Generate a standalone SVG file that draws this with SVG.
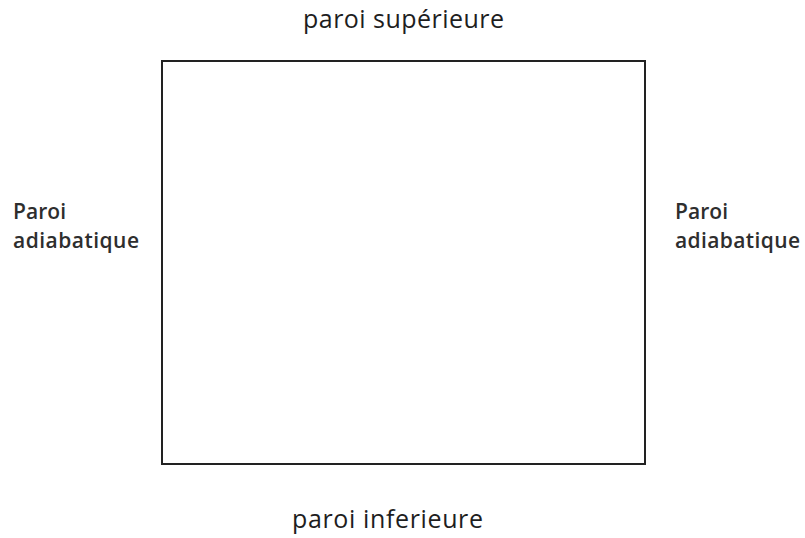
<svg xmlns="http://www.w3.org/2000/svg" width="805" height="538" viewBox="0 0 805 538">
<style>
.t{font-family:"Open Sans","Noto Sans","Liberation Sans",sans-serif;fill:#1e1e1e}
.big{font-size:25px}
.side{font-size:21px;fill:#2e2e2e;font-weight:600}
</style>
<rect width="805" height="538" fill="#ffffff"/>
<g id="cavity">
<rect x="162" y="61" width="483" height="403" fill="none" stroke="#222222" stroke-width="2"/>
</g>
<g id="top-label"><text class="t big" x="303" y="28" textLength="201" lengthAdjust="spacing">paroi supérieure</text></g>
<g id="bottom-label"><text class="t big" x="292" y="528" textLength="191" lengthAdjust="spacing">paroi inferieure</text></g>
<g id="left-label"><text class="t side" x="13" y="219" textLength="53" lengthAdjust="spacing">Paroi</text><text class="t side" x="13" y="248" textLength="126" lengthAdjust="spacing">adiabatique</text></g>
<g id="right-label"><text class="t side" x="675" y="219" textLength="53" lengthAdjust="spacing">Paroi</text><text class="t side" x="675" y="248" textLength="125" lengthAdjust="spacing">adiabatique</text></g>
<g id="connectors"/>
</svg>
